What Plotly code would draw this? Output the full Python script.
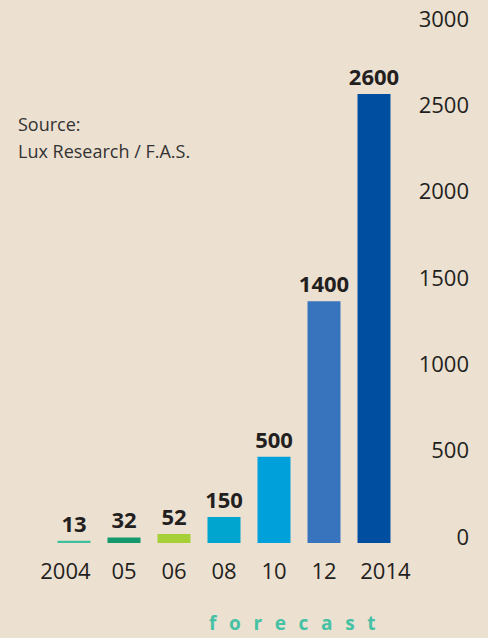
import plotly.graph_objects as go

categories = ["2004", "05", "06", "08", "10", "12", "2014"]
values = [13, 32, 52, 150, 500, 1400, 2600]
bar_colors = ["#40bf9f", "#14996e", "#a6cf38", "#00a5cf", "#00a0db", "#3874bd", "#004ea0"]
tick_labels = ["2004", "05", "06", "08", "10", "12", "2014"]
y_ticks = [0, 500, 1000, 1500, 2000, 2500, 3000]
source_lines = ["Source:", "Lux Research / F.A.S."]
forecast_label = "forecast"

W, H = 488, 638
ml, mr, mt, mb = 49, 12, 25, 95
pw = W - ml - mr
ph = H - mt - mb

# the first and last year labels sit slightly outward of their bars
nb = "\u00a0"
tick_text = list(tick_labels)
tick_text[0] = tick_text[0] + nb * 3
tick_text[-1] = nb * 4 + tick_text[-1]

fig = go.Figure()
fig.add_trace(go.Bar(
    x=categories, y=values,
    marker=dict(color=bar_colors, line=dict(width=0)),
    text=[str(v) for v in values],
    textposition="outside",
    texttemplate="<b>%{text}</b>",
    textfont=dict(family="Open Sans", size=22, color="#231f20"),
    constraintext="none",
    cliponaxis=False,
    hoverinfo="skip",
))

font_main = dict(family="Open Sans", size=22, color="#231f20")

fig.update_layout(
    width=W, height=H,
    margin=dict(l=ml, r=mr, t=mt, b=mb, autoexpand=False),
    paper_bgcolor="#ece0d1",
    plot_bgcolor="rgba(0,0,0,0)",
    showlegend=False,
    bargap=0.34,
    xaxis=dict(
        domain=[0, 350 / pw],
        type="category",
        categoryorder="array", categoryarray=categories,
        tickvals=categories, ticktext=tick_text,
        range=[-0.5, 6.5],
        showgrid=False, zeroline=False, showline=False,
        ticks="", tickfont=font_main, tickangle=0,
        ticklabelstandoff=13,
        automargin=False,
    ),
    yaxis=dict(
        range=[0, 3000],
        anchor="free", position=1.0, side="left",
        tickvals=y_ticks, ticktext=[str(t) for t in y_ticks],
        showgrid=False, zeroline=False, showline=False,
        ticks="", tickfont=font_main,
        ticklabelshift=-6,
        ticklabelstandoff=7,
        automargin=False,
    ),
)

for i, line in enumerate(source_lines):
    fig.add_annotation(
        text=line, xref="paper", yref="paper",
        x=(16 - ml) / pw, xanchor="left",
        y=1 - (124 + 27 * i - mt) / ph, yanchor="middle",
        showarrow=False,
        font=dict(family="Open Sans", size=18, color="#333333"),
    )

spaced = "\u2002\u2009".join(forecast_label)
fig.add_annotation(
    text="<b>" + spaced + "</b>", xref="paper", yref="paper",
    x=(292 - ml) / pw, xanchor="center",
    y=1 - (623 - mt) / ph, yanchor="middle",
    showarrow=False,
    font=dict(family="Open Sans", size=19, color="#45c1a3"),
)

fig.write_html("out.html", config={"displayModeBar": False},
               post_script="document.body.style.margin='0';")
